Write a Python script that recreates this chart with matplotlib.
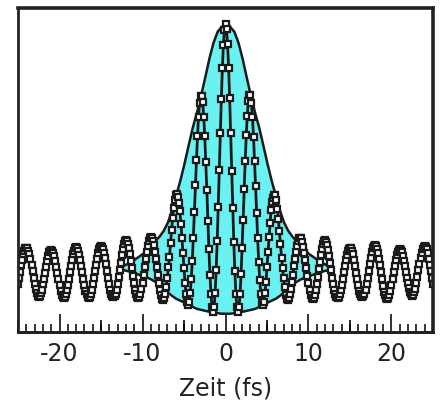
import numpy as np
import matplotlib.pyplot as plt

plt.rcParams['font.family'] = ['DejaVu Sans']
plt.rcParams['axes.unicode_minus'] = False

# gemessene Autokorrelation, Abtastung alle 0.125 fs von -25 bis 25 fs
signal = [
    0.61, 0.73, 0.86, 0.99, 1.11, 1.22, 1.30, 1.35,
    1.36, 1.35, 1.30, 1.22, 1.12, 1.00, 0.87, 0.74,
    0.61, 0.50, 0.41, 0.36, 0.34, 0.36, 0.41, 0.49,
    0.60, 0.71, 0.84, 0.96, 1.08, 1.18, 1.26, 1.30,
    1.31, 1.30, 1.25, 1.18, 1.08, 0.96, 0.84, 0.70,
    0.58, 0.47, 0.38, 0.33, 0.31, 0.33, 0.39, 0.48,
    0.59, 0.71, 0.85, 0.98, 1.11, 1.22, 1.30, 1.35,
    1.37, 1.35, 1.30, 1.21, 1.10, 0.98, 0.85, 0.71,
    0.58, 0.47, 0.39, 0.34, 0.32, 0.34, 0.40, 0.49,
    0.60, 0.73, 0.87, 1.00, 1.13, 1.24, 1.33, 1.38,
    1.40, 1.38, 1.33, 1.25, 1.14, 1.02, 0.88, 0.73,
    0.60, 0.49, 0.40, 0.35, 0.33, 0.35, 0.40, 0.49,
    0.61, 0.75, 0.90, 1.05, 1.20, 1.33, 1.43, 1.50,
    1.52, 1.50, 1.44, 1.35, 1.22, 1.08, 0.93, 0.77,
    0.62, 0.49, 0.39, 0.33, 0.31, 0.33, 0.39, 0.50,
    0.63, 0.79, 0.95, 1.12, 1.27, 1.40, 1.50, 1.56,
    1.58, 1.56, 1.50, 1.41, 1.28, 1.13, 0.96, 0.79,
    0.63, 0.48, 0.37, 0.30, 0.27, 0.31, 0.40, 0.55,
    0.74, 0.95, 1.17, 1.45, 1.72, 1.97, 2.18, 2.35,
    2.46, 2.47, 2.41, 2.29, 2.12, 1.86, 1.57, 1.24,
    0.93, 0.62, 0.39, 0.23, 0.17, 0.24, 0.42, 0.71,
    1.08, 1.57, 2.09, 2.65, 3.17, 3.67, 4.07, 4.36,
    4.50, 4.51, 4.38, 4.08, 3.67, 3.14, 2.56, 1.92,
    1.33, 0.80, 0.40, 0.13, 0.03, 0.13, 0.42, 0.89,
    1.49, 2.20, 2.97, 3.74, 4.45, 5.08, 5.57, 5.88,
    6.00, 5.89, 5.58, 5.09, 4.46, 3.74, 2.96, 2.19,
    1.47, 0.87, 0.40, 0.12, 0.02, 0.12, 0.39, 0.81,
    1.35, 1.94, 2.58, 3.16, 3.69, 4.10, 4.40, 4.53,
    4.52, 4.36, 4.06, 3.66, 3.15, 2.63, 2.07, 1.55,
    1.07, 0.69, 0.40, 0.23, 0.18, 0.24, 0.41, 0.64,
    0.95, 1.26, 1.59, 1.88, 2.14, 2.30, 2.40, 2.46,
    2.45, 2.34, 2.16, 1.95, 1.70, 1.43, 1.15, 0.93,
    0.73, 0.54, 0.38, 0.30, 0.28, 0.31, 0.39, 0.50,
    0.65, 0.80, 0.97, 1.13, 1.27, 1.40, 1.49, 1.55,
    1.57, 1.55, 1.48, 1.38, 1.25, 1.10, 0.93, 0.77,
    0.62, 0.49, 0.38, 0.32, 0.30, 0.32, 0.38, 0.48,
    0.61, 0.76, 0.92, 1.07, 1.21, 1.33, 1.43, 1.49,
    1.51, 1.48, 1.41, 1.31, 1.19, 1.04, 0.89, 0.74,
    0.60, 0.48, 0.39, 0.34, 0.32, 0.34, 0.39, 0.48,
    0.59, 0.72, 0.86, 0.98, 1.10, 1.21, 1.29, 1.34,
    1.36, 1.35, 1.30, 1.22, 1.11, 0.98, 0.84, 0.70,
    0.58, 0.47, 0.40, 0.35, 0.33, 0.35, 0.40, 0.49,
    0.61, 0.74, 0.88, 1.02, 1.15, 1.26, 1.35, 1.40,
    1.42, 1.40, 1.34, 1.25, 1.13, 0.99, 0.85, 0.70,
    0.57, 0.45, 0.37, 0.32, 0.30, 0.32, 0.38, 0.47,
    0.59, 0.72, 0.86, 0.98, 1.10, 1.20, 1.27, 1.32,
    1.33, 1.32, 1.27, 1.19, 1.09, 0.97, 0.85, 0.73,
    0.62, 0.52, 0.44, 0.39, 0.36, 0.38, 0.43, 0.51,
    0.62, 0.75, 0.89, 1.02, 1.14, 1.25, 1.33, 1.38,
    1.40, 1.38, 1.33, 1.24, 1.13, 1.00, 0.87, 0.73,
    0.60,
]
delay = np.linspace(-25, 25, len(signal))

# Einhuellende (cyan), alle 0.5 fs von -13 bis 13 fs
env_upper = [0.93, 0.98, 1.02, 1.06, 1.12, 1.18, 1.24, 1.33, 1.41, 1.51, 1.60,
             1.72, 1.89, 2.14, 2.45, 2.76, 3.11, 3.49, 3.86, 4.17, 4.52, 4.90,
             5.29, 5.62, 5.85, 5.95, 6.00, 5.95, 5.85, 5.62, 5.29, 4.90, 4.52,
             4.17, 3.86, 3.49, 3.11, 2.76, 2.45, 2.14, 1.89, 1.72, 1.60, 1.51,
             1.41, 1.33, 1.24, 1.18, 1.12, 1.06, 1.02, 0.98, 0.93]
env_lower = [0.93, 0.91, 0.89, 0.87, 0.83, 0.81, 0.77, 0.75, 0.71, 0.66, 0.60,
             0.52, 0.44, 0.37, 0.31, 0.27, 0.23, 0.18, 0.14, 0.10, 0.08, 0.06,
             0.04, 0.02, 0.01, 0.00, 0.00, 0.00, 0.01, 0.02, 0.04, 0.06, 0.08,
             0.10, 0.14, 0.18, 0.23, 0.27, 0.31, 0.37, 0.44, 0.52, 0.60, 0.66,
             0.71, 0.75, 0.77, 0.81, 0.83, 0.87, 0.89, 0.91, 0.93]
env_delay = np.linspace(-13, 13, len(env_upper))

xticks = [-20, -10, 0, 10, 20]

fig = plt.figure(figsize=(4.4, 4.01), dpi=100)
ax = fig.add_axes([0.041, 0.172, 0.943, 0.808])

ax.fill_between(env_delay, env_lower, env_upper, facecolor='#6AF2F2',
                edgecolor='#1a1a1a', linewidth=1.8, zorder=1)
ax.plot(delay, signal, color='#1a1a1a', linewidth=2.0, marker='s',
        markersize=5, markerfacecolor='white', markeredgecolor='#1a1a1a',
        markeredgewidth=1.6, zorder=2)

ax.set_xlim(-25, 25)
ax.set_ylim(-0.39, 6.33)
ax.set_yticks([])
ax.set_xticks(xticks)
ax.set_xticklabels([str(v) for v in xticks])
ax.set_xticks(np.arange(-25, 26, 1), minor=True)
ax.tick_params(axis='x', which='major', direction='in', length=13, width=1.3,
               pad=7, labelsize=17, colors='#222222')
ax.tick_params(axis='x', which='minor', direction='in', length=5.5, width=1.1)

# mittlere Striche bei 5 fs
sec = ax.secondary_xaxis('bottom')
sec.set_xticks([-25, -15, -5, 5, 15, 25])
sec.set_xticklabels([])
sec.tick_params(direction='in', length=8.5, width=1.2)
sec.spines['bottom'].set_linewidth(2)

for side in ['left', 'bottom']:
    ax.spines[side].set_linewidth(2)
    ax.spines[side].set_color('#222222')
for side in ['top', 'right']:
    ax.spines[side].set_linewidth(2.6)
    ax.spines[side].set_color('#222222')

ax.set_xlabel('Zeit (fs)', fontsize=17, labelpad=8, color='#222222')

fig.savefig('out.png', dpi=100)
